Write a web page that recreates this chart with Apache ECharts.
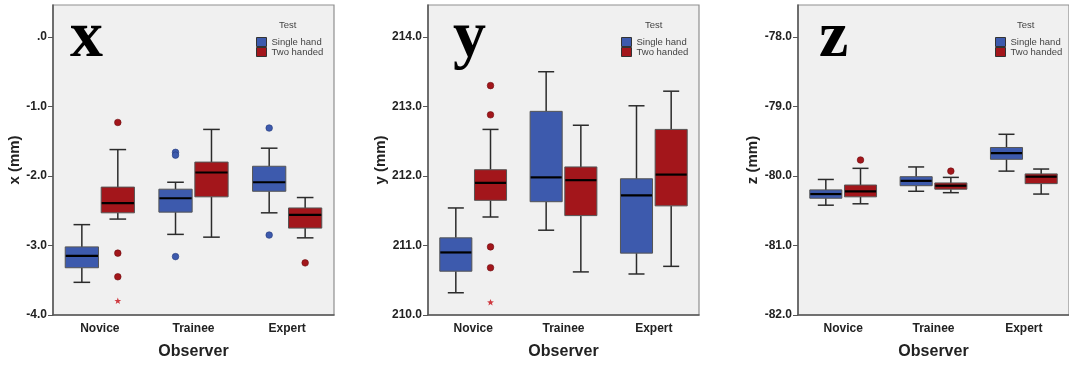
<!DOCTYPE html>
<html><head><meta charset="utf-8">
<script src="https://cdn.jsdelivr.net/npm/echarts@6/dist/echarts.min.js"></script>
<style>html,body{margin:0;padding:0;background:#fff}#c{width:1069px;height:365px}</style>
</head><body><div id="c"></div><script>
const categories = ['Novice', 'Trainee', 'Expert'];
const seriesNames = ['Single hand', 'Two handed'];
const panelLetters = ['x', 'y', 'z'];
const axisNames = ['x (mm)', 'y (mm)', 'z (mm)'];
const xRanges = [[-4, 0.46], [210, 214.46], [-82, -77.54]];

// each row: [category index, low whisker, Q1, median, Q3, high whisker]
const xSingle = [[0, -3.53, -3.32, -3.15, -3.02, -2.70], [1, -2.84, -2.52, -2.32, -2.19, -2.09], [2, -2.53, -2.22, -2.09, -1.86, -1.60]];
const xTwo    = [[0, -2.62, -2.53, -2.39, -2.16, -1.62], [1, -2.88, -2.30, -1.95, -1.80, -1.33], [2, -2.89, -2.75, -2.56, -2.46, -2.31]];
const xSingleOut = [[1, -1.66], [1, -1.70], [1, -3.16], [2, -1.31], [2, -2.85]];
const xTwoOut    = [[0, -1.23], [0, -3.11], [0, -3.45], [2, -3.25]];
const xSingleExt = [];
const xTwoExt    = [[0, -3.80]];

const ySingle = [[0, 210.32, 210.63, 210.90, 211.11, 211.54], [1, 211.22, 211.63, 211.98, 212.93, 213.50], [2, 210.59, 210.89, 211.72, 211.96, 213.01]];
const yTwo    = [[0, 211.41, 211.65, 211.90, 212.09, 212.67], [1, 210.62, 211.43, 211.94, 212.13, 212.73], [2, 210.70, 211.57, 212.02, 212.67, 213.22]];
const ySingleOut = [];
const yTwoOut    = [[0, 213.30], [0, 212.88], [0, 210.98], [0, 210.68]];
const ySingleExt = [];
const yTwoExt    = [[0, 210.18]];

const zSingle = [[0, -80.42, -80.32, -80.26, -80.20, -80.05], [1, -80.22, -80.14, -80.07, -80.01, -79.87], [2, -79.93, -79.76, -79.67, -79.59, -79.40]];
const zTwo    = [[0, -80.40, -80.30, -80.22, -80.13, -79.89], [1, -80.24, -80.19, -80.14, -80.10, -80.02], [2, -80.26, -80.11, -80.01, -79.97, -79.90]];
const zSingleOut = [];
const zTwoOut    = [[0, -79.77], [1, -79.93]];
const zSingleExt = [];
const zTwoExt    = [];

const panelData = [
  {single: xSingle, two: xTwo, sOut: xSingleOut, tOut: xTwoOut, sExt: xSingleExt, tExt: xTwoExt},
  {single: ySingle, two: yTwo, sOut: ySingleOut, tOut: yTwoOut, sExt: ySingleExt, tExt: yTwoExt},
  {single: zSingle, two: zTwo, sOut: zSingleOut, tOut: zTwoOut, sExt: zSingleExt, tExt: zTwoExt}
];

// layout (pixels)
const layout = [
  {left: 53, width: 281, legendLeft: 256, testLeft: 279, letterLeft: 70},
  {left: 428, width: 271, legendLeft: 621, testLeft: 645, letterLeft: 453},
  {left: 798, width: 272, legendLeft: 995, testLeft: 1017, letterLeft: 819}
];
const GRID_TOP = 5, GRID_H = 312;
const BLUE = '#3d5aad', RED = '#a3161b';
const FONT = 'Liberation Sans, Arial, sans-serif';
const OFF = 0.192, BOXW = 0.355;

function makeBox(offset, fill) {
  return function (params, api) {
    const c = api.value(0);
    const band = api.size([1, 0])[0];
    const x = api.coord([c, api.value(3)])[0] + offset * band;
    const w = band * BOXW, cap = w * 0.5;
    const yv = i => api.coord([c, api.value(i)])[1];
    const yl = yv(1), q1 = yv(2), ym = yv(3), q3 = yv(4), yh = yv(5);
    const ws = () => ({stroke: '#2b2b2b', lineWidth: 1.5});
    return {type: 'group', children: [
      {type: 'line', shape: {x1: x, y1: yh, x2: x, y2: q3}, style: ws()},
      {type: 'line', shape: {x1: x, y1: q1, x2: x, y2: yl}, style: ws()},
      {type: 'line', shape: {x1: x - cap / 2, y1: yh, x2: x + cap / 2, y2: yh}, style: ws()},
      {type: 'line', shape: {x1: x - cap / 2, y1: yl, x2: x + cap / 2, y2: yl}, style: ws()},
      {type: 'rect', shape: {x: x - w / 2, y: q3, width: w, height: q1 - q3}, style: {fill: fill, stroke: '#555', lineWidth: 1}},
      {type: 'line', shape: {x1: x - w / 2 + 0.5, y1: ym, x2: x + w / 2 - 0.5, y2: ym}, style: {stroke: '#000', lineWidth: 2.2}}
    ]};
  };
}
function makeOut(offset, fill, edge, star) {
  return function (params, api) {
    const c = api.value(0);
    const band = api.size([1, 0])[0];
    const p = api.coord([c, api.value(1)]);
    const x = p[0] + offset * band, y = p[1];
    if (star) {
      const pts = [];
      for (let k = 0; k < 10; k++) {
        const r = k % 2 === 0 ? 3.6 : 1.5;
        const a = -Math.PI / 2 + k * Math.PI / 5;
        pts.push([x + r * Math.cos(a), y + r * Math.sin(a)]);
      }
      return {type: 'polygon', shape: {points: pts}, style: {fill: '#cf3a40'}};
    }
    return {type: 'circle', shape: {cx: x, cy: y, r: 3.3}, style: {fill: fill, stroke: edge, lineWidth: 0.6}};
  };
}
function fmt(v) {
  if (Math.abs(v) < 1e-9) return '.0';
  return v.toFixed(1);
}
function tickValues(range) {
  const out = [];
  for (let v = range[0]; v <= range[1] + 1e-9; v += 1) out.push(v);
  return out;
}

const grids = [], xAxes = [], yAxes = [], series = [], titles = [], legends = [];
layout.forEach((L, i) => {
  const D = panelData[i];
  const ticks = tickValues(xRanges[i]);
  grids.push({left: L.left, top: GRID_TOP, width: L.width, height: GRID_H, show: true,
    backgroundColor: '#f0f0f0', borderColor: '#8f8f8f', borderWidth: 1.2});
  xAxes.push({type: 'category', gridIndex: i, data: categories, boundaryGap: true,
    axisLine: {onZero: false, lineStyle: {color: '#555', width: 1.5}},
    axisTick: {alignWithLabel: true, length: 5, lineStyle: {color: '#555', width: 1}},
    axisLabel: {fontSize: 12, fontWeight: 'bold', color: '#222', margin: 8, fontFamily: FONT},
    name: 'Observer', nameLocation: 'middle', nameGap: 29,
    nameTextStyle: {fontSize: 16, fontWeight: 'bold', color: '#222', fontFamily: FONT}});
  yAxes.push({type: 'value', gridIndex: i, min: xRanges[i][0], max: xRanges[i][1], interval: 1,
    splitLine: {show: false},
    axisLine: {show: true, onZero: false, lineStyle: {color: '#555', width: 1.5}},
    axisTick: {show: true, length: 5, customValues: ticks, lineStyle: {color: '#555', width: 1}},
    axisLabel: {fontSize: 12, fontWeight: 'bold', color: '#222', margin: 6, fontFamily: FONT,
      customValues: ticks, formatter: fmt},
    name: axisNames[i], nameLocation: 'middle', nameGap: 30,
    nameTextStyle: {fontSize: 15, fontWeight: 'bold', color: '#222', fontFamily: FONT}});
  series.push({type: 'custom', name: seriesNames[0], xAxisIndex: i, yAxisIndex: i, data: D.single,
    encode: {x: 0, y: [1, 2, 3, 4, 5]}, itemStyle: {color: BLUE}, renderItem: makeBox(-OFF, BLUE)});
  series.push({type: 'custom', name: seriesNames[1], xAxisIndex: i, yAxisIndex: i, data: D.two,
    encode: {x: 0, y: [1, 2, 3, 4, 5]}, itemStyle: {color: RED}, renderItem: makeBox(OFF, RED)});
  series.push({type: 'custom', name: 'so' + i, xAxisIndex: i, yAxisIndex: i, data: D.sOut,
    encode: {x: 0, y: 1}, renderItem: makeOut(-OFF, BLUE, '#24397a', false), z: 3});
  series.push({type: 'custom', name: 'to' + i, xAxisIndex: i, yAxisIndex: i, data: D.tOut,
    encode: {x: 0, y: 1}, renderItem: makeOut(OFF, RED, '#6b0d10', false), z: 3});
  series.push({type: 'custom', name: 'se' + i, xAxisIndex: i, yAxisIndex: i, data: D.sExt,
    encode: {x: 0, y: 1}, renderItem: makeOut(-OFF, BLUE, '#24397a', true), z: 3});
  series.push({type: 'custom', name: 'te' + i, xAxisIndex: i, yAxisIndex: i, data: D.tExt,
    encode: {x: 0, y: 1}, renderItem: makeOut(OFF, RED, '#6b0d10', true), z: 3});
  titles.push({text: panelLetters[i], left: L.letterLeft, top: 6, padding: 0,
    textStyle: {fontFamily: 'Liberation Serif, Times New Roman, serif', fontWeight: 'bold', fontSize: 66, color: '#000'}});
  titles.push({text: 'Test', left: L.testLeft, top: 20, padding: 0,
    textStyle: {fontFamily: FONT, fontWeight: 'normal', fontSize: 9.5, color: '#444'}});
  legends.push({left: L.legendLeft, top: 37, orient: 'vertical', padding: 0, itemGap: 0,
    itemWidth: 10, itemHeight: 9, selectedMode: false,
    textStyle: {fontFamily: FONT, fontSize: 9.5, color: '#444'},
    data: [
      {name: seriesNames[0], icon: 'rect', itemStyle: {color: BLUE, borderColor: '#333', borderWidth: 1}},
      {name: seriesNames[1], icon: 'rect', itemStyle: {color: RED, borderColor: '#333', borderWidth: 1}}
    ]});
});

const chart = echarts.init(document.getElementById('c'), null, {renderer: 'canvas'});
chart.setOption({animation: false, backgroundColor: '#fff', title: titles, legend: legends,
  grid: grids, xAxis: xAxes, yAxis: yAxes, series: series});
</script></body></html>
